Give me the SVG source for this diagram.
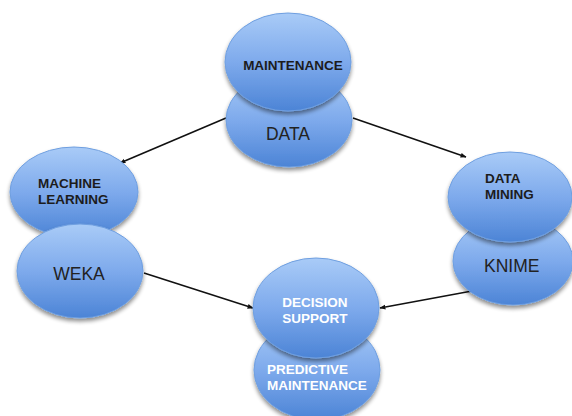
<svg xmlns="http://www.w3.org/2000/svg" width="572" height="416" viewBox="0 0 572 416">
  <defs>
    <linearGradient id="blueFill" x1="0" y1="0" x2="0" y2="1">
      <stop offset="0" stop-color="#a9cbf7"/>
      <stop offset="0.5" stop-color="#7eaaec"/>
      <stop offset="1" stop-color="#4c84d6"/>
    </linearGradient>
    <filter id="shadow" x="-20%" y="-20%" width="140%" height="150%">
      <feGaussianBlur in="SourceAlpha" stdDeviation="2"/>
      <feOffset dy="2.5"/>
      <feComponentTransfer><feFuncA type="linear" slope="0.45"/></feComponentTransfer>
      <feMerge><feMergeNode/><feMergeNode in="SourceGraphic"/></feMerge>
    </filter>
    <marker id="arrow" viewBox="0 0 10 10" refX="9" refY="5" markerWidth="6" markerHeight="6" orient="auto" markerUnits="userSpaceOnUse">
      <path d="M0,1 L10,5 L0,9 z" fill="#111"/>
    </marker>
    <style>
      .node { fill: url(#blueFill); stroke: #6f9fe0; stroke-width: 1; filter: url(#shadow); }
      .bold { font-family: "Liberation Sans", Arial, sans-serif; font-weight: 700; font-size: 13.5px; fill: #1c1c1c; }
      .big { font-family: "Liberation Sans", Arial, sans-serif; font-size: 17.5px; fill: #222; }
      .white { font-family: "Liberation Sans", Arial, sans-serif; font-weight: 700; font-size: 13.5px; fill: #ffffff; }
      .link { stroke: #111; stroke-width: 1.6; fill: none; marker-end: url(#arrow); }
    </style>
  </defs>

  <rect width="572" height="416" fill="#ffffff"/>

  <!-- connectors -->
  <g id="connectors">
    <line class="link" x1="226" y1="118" x2="120" y2="163"/>
    <line class="link" x1="353" y1="118" x2="466" y2="157"/>
    <line class="link" x1="144" y1="273" x2="253" y2="308"/>
    <line class="link" x1="472" y1="291" x2="380" y2="308"/>
  </g>

  <!-- top pair -->
  <g id="data">
    <ellipse class="node" cx="289" cy="120" rx="63" ry="47"/>
    <text class="big" x="288" y="140" text-anchor="middle">DATA</text>
  </g>
  <g id="maintenance">
    <ellipse class="node" cx="288" cy="62" rx="63" ry="49"/>
    <text class="bold" x="293" y="70" text-anchor="middle">MAINTENANCE</text>
  </g>

  <!-- left pair -->
  <g id="machine-learning">
    <ellipse class="node" cx="74" cy="192" rx="64" ry="45"/>
    <text class="bold" x="38" y="188">MACHINE</text>
    <text class="bold" x="38" y="204">LEARNING</text>
  </g>
  <g id="weka">
    <ellipse class="node" cx="80" cy="271" rx="63" ry="47"/>
    <text class="big" x="79" y="280" text-anchor="middle">WEKA</text>
  </g>

  <!-- right pair -->
  <g id="knime">
    <ellipse class="node" cx="513" cy="261" rx="60" ry="44"/>
    <text class="big" x="484" y="272">KNIME</text>
  </g>
  <g id="data-mining">
    <ellipse class="node" cx="510" cy="197" rx="62" ry="45"/>
    <text class="bold" x="485" y="183">DATA</text>
    <text class="bold" x="485" y="199">MINING</text>
  </g>

  <!-- bottom pair -->
  <g id="predictive-maintenance">
    <ellipse class="node" cx="317" cy="370" rx="63" ry="50"/>
    <text class="white" x="267" y="374">PREDICTIVE</text>
    <text class="white" x="267" y="390">MAINTENANCE</text>
  </g>
  <g id="decision-support">
    <ellipse class="node" cx="316" cy="308" rx="63" ry="50"/>
    <text class="white" x="315" y="307" text-anchor="middle">DECISION</text>
    <text class="white" x="315" y="323" text-anchor="middle">SUPPORT</text>
  </g>
</svg>
